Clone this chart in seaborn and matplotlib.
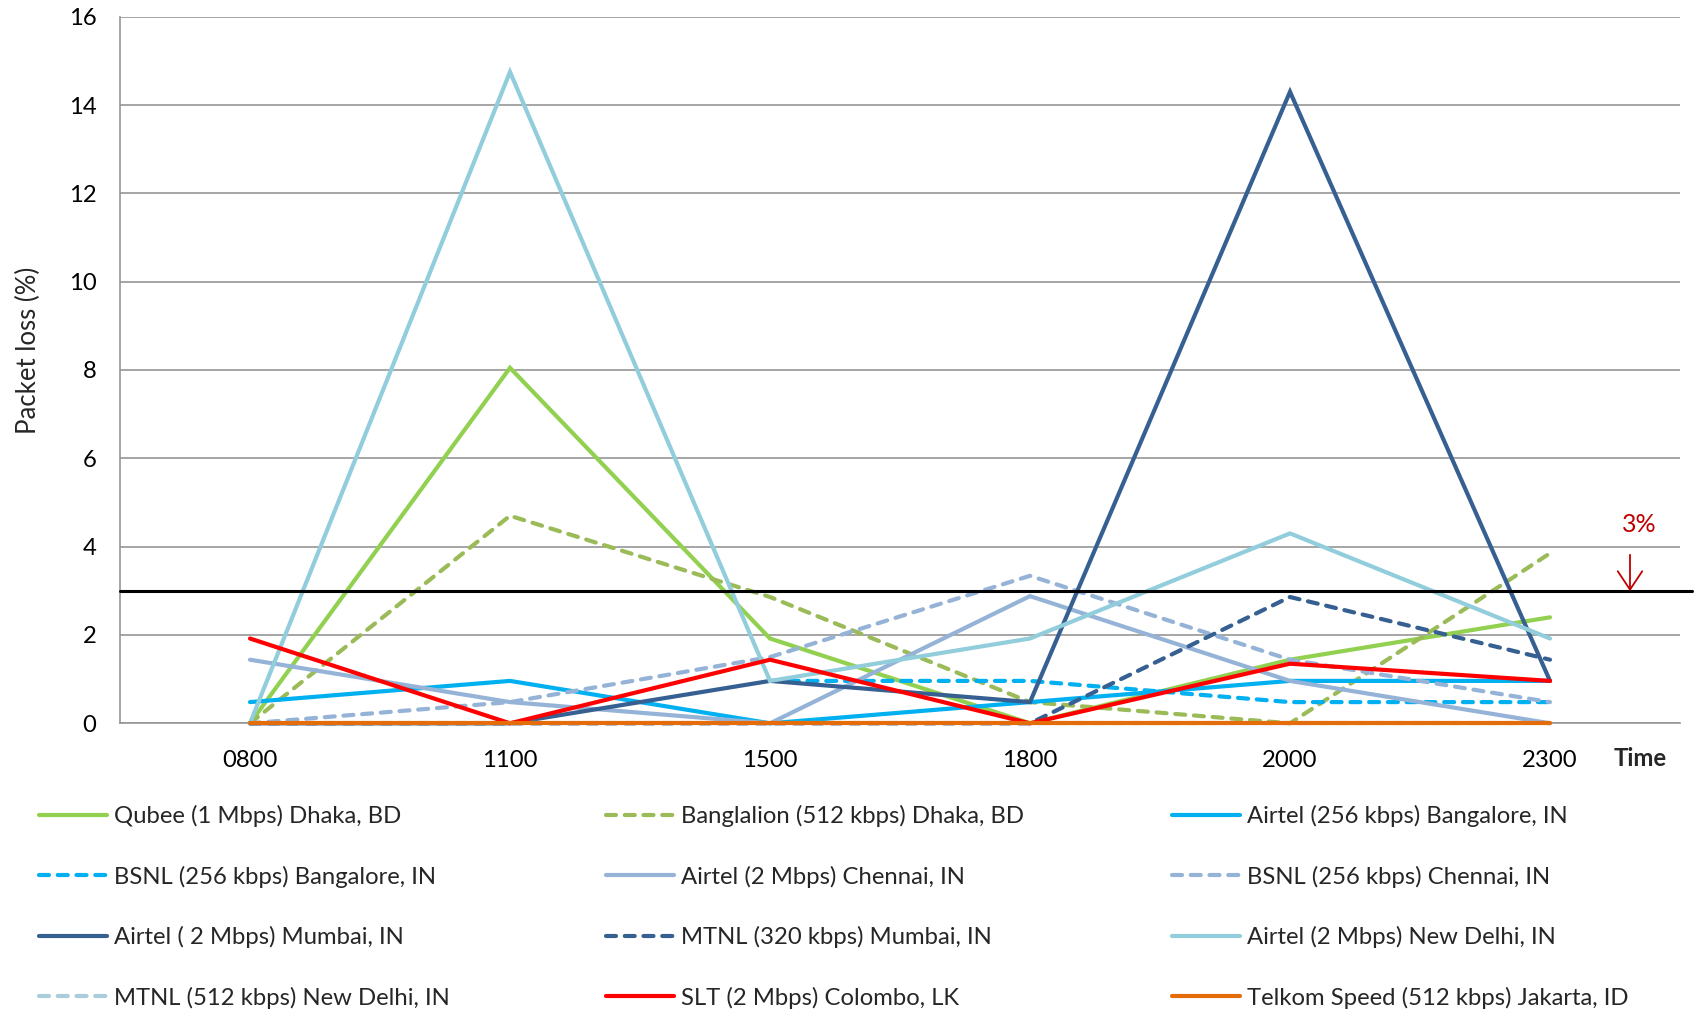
import numpy as np
import pandas as pd
import matplotlib
matplotlib.use("Agg")
import matplotlib.pyplot as plt
from matplotlib.lines import Line2D
import seaborn as sns

times = ["0800", "1100", "1500", "1800", "2000", "2300"]

series_names = [
    "Qubee (1 Mbps) Dhaka, BD",
    "Banglalion (512 kbps) Dhaka, BD",
    "Airtel (256 kbps) Bangalore, IN",
    "BSNL (256 kbps) Bangalore, IN",
    "Airtel (2 Mbps) Chennai, IN",
    "BSNL (256 kbps) Chennai, IN",
    "Airtel ( 2 Mbps) Mumbai, IN",
    "MTNL (320 kbps) Mumbai, IN",
    "Airtel (2 Mbps) New Delhi, IN",
    "MTNL (512 kbps) New Delhi, IN",
    "SLT (2 Mbps) Colombo, LK",
    "Telkom Speed (512 kbps) Jakarta, ID",
]

qubee_dhaka = [0.0, 8.05, 1.92, 0.0, 1.44, 2.40]
banglalion_dhaka = [0.0, 4.70, 2.86, 0.48, 0.0, 3.85]
airtel_bangalore = [0.48, 0.96, 0.0, 0.48, 0.96, 0.96]
bsnl_bangalore = [np.nan, np.nan, 0.96, 0.96, 0.48, 0.48]
airtel_chennai = [1.44, 0.48, 0.0, 2.88, 0.96, 0.0]
bsnl_chennai = [0.0, 0.48, 1.50, 3.34, 1.44, 0.48]
airtel_mumbai = [0.0, 0.0, 0.96, 0.48, 14.30, 0.96]
mtnl_mumbai = [0.0, 0.0, 0.0, 0.0, 2.86, 1.44]
airtel_delhi = [0.0, 14.75, 0.96, 1.92, 4.30, 1.92]
mtnl_delhi = [0.0, 0.0, 0.0, 0.0, 0.0, 0.0]
slt_colombo = [1.92, 0.0, 1.44, 0.0, 1.35, 0.96]
telkom_jakarta = [0.0, 0.0, 0.0, 0.0, 0.0, 0.0]

values = [qubee_dhaka, banglalion_dhaka, airtel_bangalore, bsnl_bangalore,
          airtel_chennai, bsnl_chennai, airtel_mumbai, mtnl_mumbai,
          airtel_delhi, mtnl_delhi, slt_colombo, telkom_jakarta]

colors = ["#92D050", "#9BBB59", "#00B0F0", "#00B0F0",
          "#95B3D7", "#95B3D7", "#376092", "#376092",
          "#92CDDC", "#A9CDDA", "#FF0000", "#E46C0A"]
dashed = [False, True, False, True, False, True, False, True,
          False, True, False, False]

threshold = 3

rows = []
for name, vals in zip(series_names, values):
    for t, v in zip(times, vals):
        rows.append({"time": t, "loss": v, "series": name})
df = pd.DataFrame(rows)

sns.set_theme(style="white")
plt.rcParams["font.family"] = ["Lato", "DejaVu Sans"]

fig = plt.figure(figsize=(16.96, 10.10), dpi=100)
ax = fig.add_axes([0.07075, 0.28386, 0.91982, 0.69961])

LW = 3.0
DASH = (2.4, 2.1)
FS = 17.2
palette = dict(zip(series_names, colors))
dash_map = {n: (DASH if d else "") for n, d in zip(series_names, dashed)}

sns.lineplot(data=df, x="time", y="loss", hue="series", style="series",
             hue_order=series_names, style_order=series_names,
             palette=palette, dashes=dash_map, estimator=None, sort=False,
             linewidth=LW, legend=False, ax=ax)
for ln in ax.lines:
    ln.set_dash_capstyle("round")
    ln.set_solid_capstyle("round")
    ln.set_solid_joinstyle("miter")
    ln.set_zorder(3)
    ln.set_clip_on(False)

ax.set_xlim(-0.5, 5.5)
ax.set_ylim(0, 16)
ax.set_yticks(np.arange(0, 17, 2))
ax.yaxis.grid(True, color="#969696", linewidth=1.2)
ax.set_axisbelow(True)
for s in ["top", "right"]:
    ax.spines[s].set_visible(False)
for s in ["left", "bottom"]:
    ax.spines[s].set_color("#969696")
    ax.spines[s].set_linewidth(1.2)
    ax.spines[s].set_zorder(1)
ax.tick_params(axis="y", length=0, pad=17, labelsize=FS, colors="black")
ax.tick_params(axis="x", length=0, pad=19, labelsize=FS, colors="black")
ax.set_xlabel("")
ax.set_ylabel("Packet loss (%)", fontsize=18.5)
ax.yaxis.set_label_coords(-0.0505, 1 - (350 - 16.7) / 706.6)

# 3% threshold line
ax.axhline(threshold, xmin=0, xmax=(1692 - 120) / 1560, color="black",
           linewidth=2.2, zorder=10, clip_on=False)

fig.text(1640 / 1696, 1 - 758 / 1010, "Time", fontsize=FS, fontweight="bold",
         ha="center", va="center")
fig.text(1639 / 1696, 1 - 525 / 1010, "3%", fontsize=18, color="#C00000",
         ha="center", va="center")
fig.add_artist(matplotlib.patches.FancyArrowPatch(
    (1630 / 1696, 1 - 552 / 1010), (1630 / 1696, 1 - 594 / 1010),
    transform=fig.transFigure, arrowstyle="->,head_length=6,head_width=4",
    color="#C00000", linewidth=1.3, mutation_scale=2.2))

# Legend: three columns, row-major order
col_x = [39, 606, 1172]
for c in range(3):
    handles, labels = [], []
    for r in range(4):
        i = r * 3 + c
        handles.append(Line2D([0], [0], color=colors[i], linewidth=LW,
                              linestyle=(0, DASH) if dashed[i] else "-",
                              dash_capstyle="round", solid_capstyle="round"))
        labels.append(series_names[i])
    fig.legend(handles, labels, loc="upper left",
               bbox_to_anchor=(col_x[c] / 1696, 1 - 805 / 1010),
               frameon=False, fontsize=FS, handlelength=2.85,
               handletextpad=0.3, labelspacing=1.61, borderpad=0,
               borderaxespad=0)

fig.savefig("out.png", dpi=100)
